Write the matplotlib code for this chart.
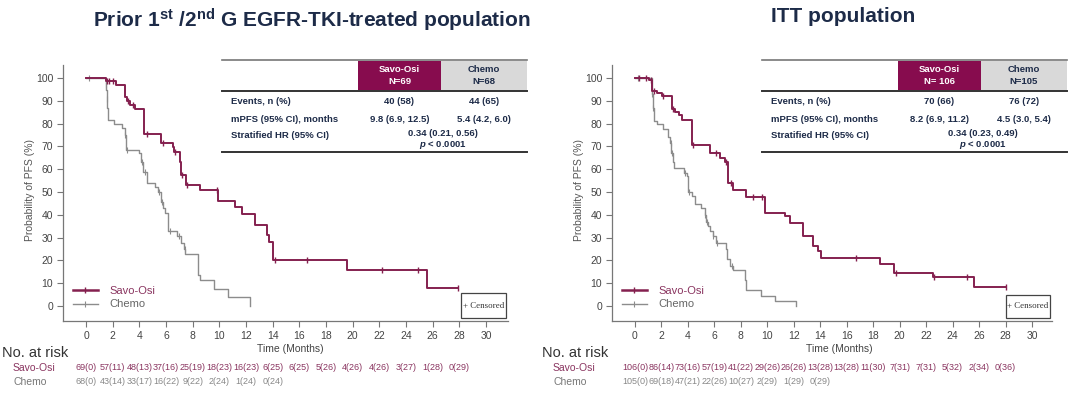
import numpy as np
import matplotlib
matplotlib.use("Agg")
import matplotlib.pyplot as plt
from matplotlib.patches import Rectangle
from matplotlib.lines import Line2D

plt.rcParams['font.family'] = ['Liberation Sans', 'DejaVu Sans']
plt.rcParams['mathtext.fontset'] = 'custom'
plt.rcParams['mathtext.rm'] = 'Liberation Sans'
plt.rcParams['mathtext.bf'] = 'Liberation Sans:bold'
plt.rcParams['mathtext.it'] = 'Liberation Sans:italic:bold'

# ---------------- data ----------------
months_ticks = list(range(0, 31, 2))
pct_ticks = list(range(0, 101, 10))

# Left panel: Prior 1st/2nd G EGFR-TKI-treated population
left_savo_t = [0, 1.5, 2.25, 2.95, 3.08, 3.32, 3.7, 4.35, 5.65, 6.5, 6.62, 7.05, 7.1, 7.47,
               8.55, 9.9, 11.2, 11.7, 12.7, 13.55, 13.7, 14.05, 19.6, 25.55]
left_savo_s = [100, 98.8, 97, 91.5, 90, 88, 86.3, 75.5, 71.4, 69.7, 67.5, 63, 57.5, 53,
               51, 46, 43.5, 40.5, 35.5, 31, 28, 20, 16, 7.7]
left_savo_end = 27.9
left_savo_cens = [1.55, 1.75, 2.0, 3.15, 3.5, 4.6, 5.8, 6.7, 7.2, 7.6, 9.8, 14.15, 16.6, 22.2,
                  24.9, 27.9]

left_chemo_t = [0, 1.48, 1.52, 1.56, 1.6, 1.64, 1.67, 2.08, 2.67, 2.91, 2.98, 3.03, 3.99, 4.15,
                4.25, 4.58, 5.18, 5.42, 5.66, 5.78, 5.9, 6.13, 6.85, 7.09, 7.33, 7.45, 8.4,
                8.52, 9.6, 10.67, 12.3]
left_chemo_s = [100, 97, 94.8, 91, 87, 84, 81.4, 80, 78, 75, 72, 68.6, 67, 63.2,
                58.9, 54, 52.3, 50.1, 45.8, 42.9, 40.7, 32.7, 30.5, 27.6, 25, 23, 13.8,
                11.6, 7.6, 3.8, 0]
left_chemo_cens = [0.2, 1.5, 1.58, 2.95, 3.1, 4.2, 4.4, 5.5, 5.7, 6.3, 7.0, 7.4]

# Right panel: ITT population
right_savo_t = [0, 1.06, 1.3, 1.68, 2.05, 2.8, 3.05, 3.3, 3.55, 4.28, 5.65, 6.4, 6.78, 7.02,
                7.4, 8.38, 9.85, 11.35, 11.7, 12.7, 13.45, 13.85, 14.05, 18.5, 19.6, 22.5, 25.6]
right_savo_s = [100, 99, 94.5, 93.5, 92, 86.5, 85, 83.6, 81.7, 70.5, 67, 65, 63, 54,
                51, 47.7, 41, 39.3, 36.5, 30.8, 26.4, 24, 20.9, 18.6, 14.5, 12.8, 8.2]
right_savo_end = 28.0
right_savo_cens = [0.3, 0.8, 1.2, 1.45, 2.15, 2.9, 4.4, 6.1, 6.9, 7.25, 8.9, 9.6, 16.7, 19.7,
                   22.6, 25.1, 28.0]

right_chemo_t = [0, 1.28, 1.35, 1.4, 1.45, 1.64, 2.13, 2.49, 2.66, 2.73, 2.85, 2.97, 3.7, 3.94,
                 4.0, 4.3, 4.54, 5.02, 5.27, 5.39, 5.5, 5.63, 5.87, 6.1, 6.84, 6.96, 7.2,
                 7.44, 8.28, 8.36, 9.5, 10.6, 12.2]
right_chemo_s = [100, 93, 87, 82, 81, 80, 77.8, 74.2, 71.5, 67, 63.3, 60.4, 58.3, 56.8,
                 50, 48.1, 44.9, 43, 40.1, 37, 35, 32.9, 30.7, 27.5, 24.9, 20.6, 17.7,
                 15.9, 11.5, 7.1, 4.3, 2.2, 0]
right_chemo_cens = [0.2, 1.3, 1.38, 2.7, 2.8, 3.8, 4.1, 5.3, 5.45, 5.9, 6.2, 7.3]

# at-risk tables
left_risk_savo = ["69(0)", "57(11)", "48(13)", "37(16)", "25(19)", "18(23)", "16(23)", "6(25)",
                  "6(25)", "5(26)", "4(26)", "4(26)", "3(27)", "1(28)", "0(29)"]
left_risk_chemo = ["68(0)", "43(14)", "33(17)", "16(22)", "9(22)", "2(24)", "1(24)", "0(24)"]
right_risk_savo = ["106(0)", "86(14)", "73(16)", "57(19)", "41(22)", "29(26)", "26(26)", "13(28)",
                   "13(28)", "11(30)", "7(31)", "7(31)", "5(32)", "2(34)", "0(36)"]
right_risk_chemo = ["105(0)", "69(18)", "47(21)", "22(26)", "10(27)", "2(29)", "1(29)", "0(29)"]

# summary tables
row_labels = ["Events, n (%)", "mPFS (95% CI), months", "Stratified HR (95% CI)"]
left_header = ["Savo-Osi\nN=69", "Chemo\nN=68"]
left_events = ["40 (58)", "44 (65)"]
left_mpfs = ["9.8 (6.9, 12.5)", "5.4 (4.2, 6.0)"]
left_hr = "0.34 (0.21, 0.56)"
right_header = ["Savo-Osi\nN= 106", "Chemo\nN=105"]
right_events = ["70 (66)", "76 (72)"]
right_mpfs = ["8.2 (6.9, 11.2)", "4.5 (3.0, 5.4)"]
right_hr = "0.34 (0.23, 0.49)"

left_title = r"Prior 1$^{\mathbf{st}}$ /2$^{\mathbf{nd}}$ G EGFR-TKI-treated population"
right_title = "ITT population"

# ---------------- style ----------------
SAVO = '#84204F'
SAVO_TXT = '#8A3560'
CHEMO = '#8C8C8C'
NAVY = '#1D2B48'
AXC = '#777777'
TICKC = '#444444'

W, H = 1080, 393
fig = plt.figure(figsize=(W / 100, H / 100), dpi=100)


def fx(px):
    return px / W


def fy(py):
    return 1 - py / H


def step_value(t, s, x):
    i = np.searchsorted(np.asarray(t), x, side='right') - 1
    return np.asarray(s)[max(i, 0)]


def panel(ax_left, ax_right, x0_px, x30_px, savo, chemo, risk_savo, risk_chemo,
          title, title_xy, dx, header, events, mpfs, hr, cbox):
    top, bottom = 65, 321
    y100, y0 = 78, 306
    ax = fig.add_axes([fx(ax_left), fy(bottom), (ax_right - ax_left) / W, (bottom - top) / H])
    ppm = (x30_px - x0_px) / 30.0
    ppu = (y0 - y100) / 100.0
    ax.set_xlim(-(x0_px - ax_left) / ppm, 30 + (ax_right - x30_px) / ppm)
    ax.set_ylim(-(bottom - y0) / ppu, 100 + (y100 - top) / ppu)
    for sp in ['top', 'right']:
        ax.spines[sp].set_visible(False)
    for sp in ['left', 'bottom']:
        ax.spines[sp].set_color(AXC)
        ax.spines[sp].set_linewidth(0.9)
    ax.set_xticks(months_ticks)
    ax.set_yticks(pct_ticks)
    ax.tick_params(direction='out', length=4, width=0.8, color=AXC, labelsize=7.5,
                   labelcolor=TICKC, pad=3)
    ax.tick_params(axis='x', pad=3.5)

    # curves
    (st, ss, send, scens) = savo
    (ct, cs, ccens) = chemo
    ax.step(list(st) + [send], list(ss) + [ss[-1]], where='post', color=SAVO, lw=1.4, zorder=3)
    ax.plot(scens, [step_value(st, ss, c) for c in scens], ls='none', marker='|', ms=5,
            mew=1.0, color=SAVO, zorder=4)
    ax.step(ct, cs, where='post', color=CHEMO, lw=1.0, zorder=2)
    ax.plot(ccens, [step_value(ct, cs, c) for c in ccens], ls='none', marker='|', ms=5,
            mew=0.8, color=CHEMO, zorder=2)

    # legend
    handles = [Line2D([], [], color=SAVO, lw=1.8, marker='|', ms=5, mew=1.0),
               Line2D([], [], color=CHEMO, lw=1.0, marker='|', ms=5, mew=0.8)]
    leg = ax.legend(handles, ['Savo-Osi', 'Chemo'], loc='lower left',
                    bbox_to_anchor=(fx(ax_left + 4), fy(315)), bbox_transform=fig.transFigure,
                    frameon=False, fontsize=8, handlelength=2.3, handletextpad=1.0,
                    labelspacing=0.35, borderpad=0, numpoints=1)
    for txt, c in zip(leg.get_texts(), [SAVO_TXT, '#666666']):
        txt.set_color(c)

    # censored box
    bx0, by0, bx1, by1 = cbox
    fig.add_artist(Rectangle((fx(bx0), fy(by1)), (bx1 - bx0) / W, (by1 - by0) / H,
                             transform=fig.transFigure, fc='white', ec='#444444', lw=0.9,
                             zorder=5))
    fig.text(fx((bx0 + bx1) / 2), fy((by0 + by1) / 2), "+ Censored", ha='center', va='center',
             fontsize=6.4, family='Liberation Serif', color='#333333', zorder=6)

    # axis labels
    fig.text(fx(ax_left - 33), fy(190), "Probability of PFS (%)", rotation=90,
             ha='center', va='center', fontsize=7.5, color='#555555')
    fig.text(fx(x0_px + 204), fy(349), "Time (Months)", ha='center', va='center',
             fontsize=7.5, color='#444444')

    # at risk table
    fig.text(fx(dx + 2), fy(353), "No. at risk", ha='left', va='center', fontsize=10.5,
             color='#333333')
    fig.text(fx(dx + 13), fy(368), "Savo-Osi", ha='left', va='center', fontsize=7.5,
             color=SAVO_TXT)
    fig.text(fx(dx + 13), fy(382), "Chemo", ha='left', va='center', fontsize=7.5,
             color='#777777')
    for m, lab in zip(months_ticks, risk_savo):
        fig.text(fx(x0_px + m * ppm), fy(368), lab, ha='center', va='center', fontsize=6.5,
                 color=SAVO_TXT)
    for m, lab in zip(months_ticks, risk_chemo):
        fig.text(fx(x0_px + m * ppm), fy(382), lab, ha='center', va='center', fontsize=6.5,
                 color='#888888')

    # title
    fig.text(fx(title_xy[0]), fy(title_xy[1]), title, ha='center', va='center',
             fontsize=15, fontweight='bold', color=NAVY)

    # summary table
    tx0, tx1 = dx + 222, dx + 527
    c1a, c1b, c2b = dx + 358, dx + 441, dx + 527
    fig.add_artist(Rectangle((fx(c1a), fy(90)), (c1b - c1a) / W, 29 / H,
                             transform=fig.transFigure, fc='#870C4E', ec='none'))
    fig.add_artist(Rectangle((fx(c1b), fy(90)), (c2b - c1b) / W, 29 / H,
                             transform=fig.transFigure, fc='#D9D9D9', ec='none'))
    fig.add_artist(Line2D([fx(tx0), fx(tx1)], [fy(60), fy(60)], color='#777777', lw=1.2))
    fig.add_artist(Line2D([fx(tx0), fx(tx1)], [fy(90.5), fy(90.5)], color='#333333', lw=1.4))
    fig.add_artist(Line2D([fx(tx0), fx(tx1)], [fy(152), fy(152)], color='#333333', lw=1.4))
    fig.text(fx((c1a + c1b) / 2), fy(75.5), header[0], ha='center', va='center',
             fontsize=6.8, fontweight='bold', color='white', linespacing=1.3)
    fig.text(fx((c1b + c2b) / 2), fy(75.5), header[1], ha='center', va='center',
             fontsize=6.8, fontweight='bold', color=NAVY, linespacing=1.3)
    rows_y = [102, 119, 136]
    for lab, yy in zip(row_labels, rows_y):
        fig.text(fx(tx0 + 9), fy(yy), lab, ha='left', va='center', fontsize=6.8,
                 fontweight='bold', color=NAVY)
    for vals, yy in zip([events, mpfs], rows_y[:2]):
        fig.text(fx((c1a + c1b) / 2), fy(yy), vals[0], ha='center', va='center',
                 fontsize=6.8, fontweight='bold', color=NAVY)
        fig.text(fx((c1b + c2b) / 2), fy(yy), vals[1], ha='center', va='center',
                 fontsize=6.8, fontweight='bold', color=NAVY)
    fig.text(fx(c1b + 2), fy(134), hr, ha='center', va='center', fontsize=6.8,
             fontweight='bold', color=NAVY)
    fig.text(fx(c1b + 2), fy(145), r"$\mathit{p}$ < 0.0001", ha='center', va='center',
             fontsize=6.8, fontweight='bold', color=NAVY)
    return ax


panel(63, 508, 86, 486,
      (left_savo_t, left_savo_s, left_savo_end, left_savo_cens),
      (left_chemo_t, left_chemo_s, left_chemo_cens),
      left_risk_savo, left_risk_chemo, left_title, (312, 20), 0,
      left_header, left_events, left_mpfs, left_hr, (461, 293, 506, 318))

panel(612, 1052, 635, 1032,
      (right_savo_t, right_savo_s, right_savo_end, right_savo_cens),
      (right_chemo_t, right_chemo_s, right_chemo_cens),
      right_risk_savo, right_risk_chemo, right_title, (843, 17), 540,
      right_header, right_events, right_mpfs, right_hr, (1006, 295, 1050, 318))

fig.savefig("out.png", dpi=100, facecolor='white')
